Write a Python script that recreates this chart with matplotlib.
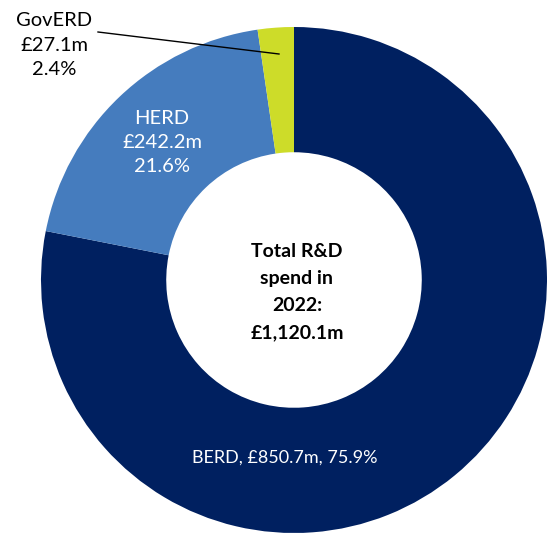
import matplotlib.pyplot as plt

# Data
categories = ["BERD", "HERD", "GovERD"]
spend_m = [850.7, 242.2, 27.1]
shares = [75.9, 21.6, 2.4]
total_m = 1120.1
# wedge sizes as drawn in the picture (%), slightly off the labelled shares
drawn_share = [78.1, 19.6, 2.3]
colors = ["#002060", "#457CBE", "#CDDC29"]

plt.rcParams["font.family"] = ["Lato", "DejaVu Sans"]

fig = plt.figure(figsize=(5.47, 5.34), dpi=100)
ax = fig.add_axes([0, 0, 1, 1])

# donut, clockwise from 12 o'clock
ax.pie(
    drawn_share,
    colors=colors,
    startangle=90,
    counterclock=False,
    radius=1.0,
    wedgeprops=dict(width=0.495, linewidth=0),
)

# pixel -> data helper (centre at px 294, 280; radius 253 px)
CX, CY, R = 294, 280, 253


def px(x, y):
    return (x - CX) / R, (CY - y) / R


ax.set_xlim(-CX / R, (547 - CX) / R)
ax.set_ylim(-(534 - CY) / R, CY / R)
ax.set_aspect("auto")
ax.axis("off")


def fmt(i):
    return categories[i], f"£{spend_m[i]:,.1f}m", f"{shares[i]:.1f}%"


# BERD
b = fmt(0)
ax.text(*px(285, 458), f"{b[0]}, {b[1]}, {b[2]}", color="white",
        fontsize=13, ha="center", va="center")

# HERD
ax.text(*px(162, 142), "\n".join(fmt(1)), color="white", fontsize=14.5,
        ha="center", va="center", linespacing=1.5)

# GovERD with leader line
ax.text(*px(54, 45), "\n".join(fmt(2)), color="black", fontsize=14.5,
        ha="center", va="center", linespacing=1.55)
x0, y0 = px(98, 32)
x1, y1 = px(279, 54)
ax.plot([x0, x1], [y0, y1], color="black", linewidth=1)

# centre total
ax.text(*px(297, 292), f"Total R&D\nspend in\n2022:\n£{total_m:,.1f}m",
        fontsize=14, fontweight="bold", ha="center", va="center",
        linespacing=1.72)

fig.savefig("out.png", dpi=100)
